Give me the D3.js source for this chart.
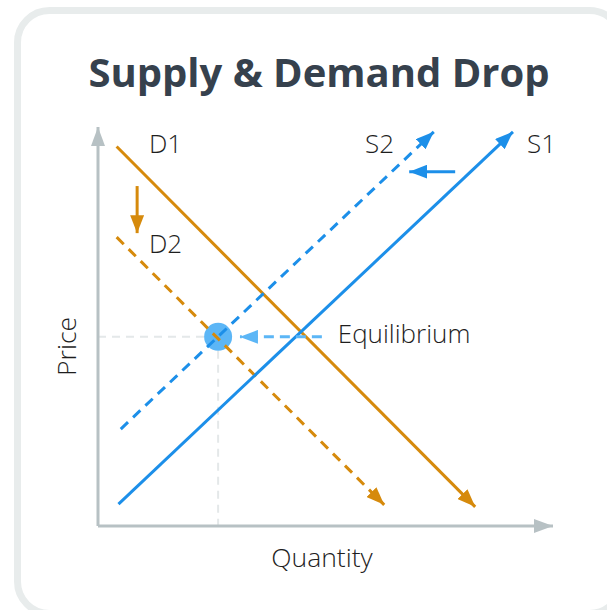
<!DOCTYPE html>
<html>
<head>
<meta charset="utf-8">
<script src="https://cdn.jsdelivr.net/npm/d3@7"></script>
<style>
  html, body { margin: 0; padding: 0; background: #fff; }
  svg { display: block; font-family: 'Open Sans', sans-serif; }
</style>
</head>
<body>
<script>
/** Curves: [x, y] start and arrow tip, in chart units (0..10) */
const curveNames = ['D1', 'D2', 'S1', 'S2'];
const curveStarts = [[0.41, 9.51], [0.41, 7.24], [0.45, 0.55], [0.50, 2.43]];
const curveEnds = [[8.29, 0.48], [6.29, 0.53], [9.12, 9.88], [7.38, 9.88]];
const curveKinds = ['demand', 'demand', 'supply', 'supply'];
const curveDashed = [false, true, false, true];

/** Curve labels */
const labelTexts = ['D1', 'D2', 'S2', 'S1'];
const labelPos = [[1.12, 9.35], [1.12, 6.84], [5.87, 9.35], [9.43, 9.35]];

/** Shift arrows: demand down, supply left */
const shiftStarts = [[0.86, 8.52], [7.85, 8.88]];
const shiftEnds = [[0.86, 7.34], [6.84, 8.88]];
const shiftKinds = ['demand', 'supply'];

/** Equilibrium point and its pointer */
const equilibrium = [2.64, 4.74];
const eqArrowFrom = [4.92, 4.74];
const eqArrowTo = [3.12, 4.74];
const eqLabel = 'Equilibrium';
const eqLabelPos = [5.27, 4.59];

const width = 607, height = 610;

const colors = {
  demand: '#d68a0c',
  supply: '#1c8fe9',
  eq: '#5cb6f6',
  axis: '#b7c1c4',
  guide: '#e4e8e9',
  text: '#1e1e1e'
};

const svg = d3.select('body').append('svg')
  .attr('width', width)
  .attr('height', height);

/** Scales for the plot area */
const x = d3.scaleLinear().domain([0, 10]).range([98, 553]);
const y = d3.scaleLinear().domain([0, 10]).range([526, 127]);

const defs = svg.append('defs');
const addMarker = (id, color, len, wid) => {
  defs.append('marker')
    .attr('id', id)
    .attr('viewBox', `0 ${-wid / 2} ${len} ${wid}`)
    .attr('refX', len)
    .attr('refY', 0)
    .attr('markerUnits', 'userSpaceOnUse')
    .attr('markerWidth', len)
    .attr('markerHeight', wid)
    .attr('orient', 'auto')
    .append('path')
    .attr('d', `M0,${-wid / 2}L${len},0L0,${wid / 2}Z`)
    .attr('fill', color);
};
addMarker('arr-axis', colors.axis, 19, 14);
addMarker('arr-demand', colors.demand, 18, 14);
addMarker('arr-supply', colors.supply, 18, 14);
addMarker('arr-eq', colors.eq, 18, 14);

/** Card */
svg.append('rect')
  .attr('x', 17.5)
  .attr('y', 10.5)
  .attr('width', 604)
  .attr('height', 603)
  .attr('rx', 32)
  .attr('fill', '#fff')
  .attr('stroke', '#e8ecec')
  .attr('stroke-width', 7);

svg.append('text')
  .attr('x', 319)
  .attr('y', 87)
  .attr('text-anchor', 'middle')
  .attr('font-size', 40)
  .attr('font-weight', 700)
  .attr('fill', '#36414d')
  .text('Supply & Demand Drop');

/** Guide lines to the equilibrium */
const guides = svg.append('g')
  .attr('stroke', colors.guide)
  .attr('stroke-width', 2)
  .attr('stroke-dasharray', '8,6');
guides.append('line')
  .attr('x1', x(0)).attr('y1', y(equilibrium[1]))
  .attr('x2', x(equilibrium[0])).attr('y2', y(equilibrium[1]));
guides.append('line')
  .attr('x1', x(equilibrium[0])).attr('y1', y(equilibrium[1]))
  .attr('x2', x(equilibrium[0])).attr('y2', y(0));

/** Axes */
svg.append('line')
  .attr('x1', x(0)).attr('y1', y(0))
  .attr('x2', x(0)).attr('y2', y(10))
  .attr('stroke', colors.axis)
  .attr('stroke-width', 3)
  .attr('marker-end', 'url(#arr-axis)');
svg.append('line')
  .attr('x1', x(0)).attr('y1', y(0))
  .attr('x2', x(10)).attr('y2', y(0))
  .attr('stroke', colors.axis)
  .attr('stroke-width', 3)
  .attr('marker-end', 'url(#arr-axis)');

svg.append('text')
  .attr('transform', `translate(76,${y(4.5)}) rotate(-90)`)
  .attr('text-anchor', 'middle')
  .attr('font-size', 26.5)
  .attr('font-weight', 300)
  .attr('fill', colors.text)
  .text('Price');
svg.append('text')
  .attr('x', 322)
  .attr('y', 567)
  .attr('text-anchor', 'middle')
  .attr('font-size', 26.5)
  .attr('font-weight', 300)
  .attr('fill', colors.text)
  .text('Quantity');

/** Equilibrium dot sits under the curves */
svg.append('circle')
  .attr('cx', x(equilibrium[0]))
  .attr('cy', y(equilibrium[1]))
  .attr('r', 14)
  .attr('fill', colors.eq);

/** Curves */
svg.append('g')
  .selectAll('line')
  .data(curveNames)
  .enter().append('line')
  .attr('x1', (d, i) => x(curveStarts[i][0]))
  .attr('y1', (d, i) => y(curveStarts[i][1]))
  .attr('x2', (d, i) => x(curveEnds[i][0]))
  .attr('y2', (d, i) => y(curveEnds[i][1]))
  .attr('stroke', (d, i) => colors[curveKinds[i]])
  .attr('stroke-width', 3)
  .attr('stroke-dasharray', (d, i) => curveDashed[i] ? '10,7' : null)
  .attr('marker-end', (d, i) => `url(#arr-${curveKinds[i]})`);

/** Shift arrows */
svg.append('g')
  .selectAll('line')
  .data(shiftKinds)
  .enter().append('line')
  .attr('x1', (d, i) => x(shiftStarts[i][0]))
  .attr('y1', (d, i) => y(shiftStarts[i][1]))
  .attr('x2', (d, i) => x(shiftEnds[i][0]))
  .attr('y2', (d, i) => y(shiftEnds[i][1]))
  .attr('stroke', d => colors[d])
  .attr('stroke-width', 3)
  .attr('marker-end', d => `url(#arr-${d})`);

/** Curve labels */
svg.append('g')
  .selectAll('text')
  .data(labelTexts)
  .enter().append('text')
  .attr('x', (d, i) => x(labelPos[i][0]))
  .attr('y', (d, i) => y(labelPos[i][1]))
  .attr('font-size', 26)
  .attr('font-weight', 300)
  .attr('fill', colors.text)
  .text(d => d);

/** Equilibrium pointer and label */
svg.append('line')
  .attr('x1', x(eqArrowFrom[0])).attr('y1', y(eqArrowFrom[1]))
  .attr('x2', x(eqArrowTo[0])).attr('y2', y(eqArrowTo[1]))
  .attr('stroke', colors.eq)
  .attr('stroke-width', 3)
  .attr('stroke-dasharray', '10,6')
  .attr('marker-end', 'url(#arr-eq)');

svg.append('text')
  .attr('x', x(eqLabelPos[0]))
  .attr('y', y(eqLabelPos[1]))
  .attr('font-size', 26)
  .attr('font-weight', 300)
  .attr('fill', colors.text)
  .text(eqLabel);
</script>
</body>
</html>
